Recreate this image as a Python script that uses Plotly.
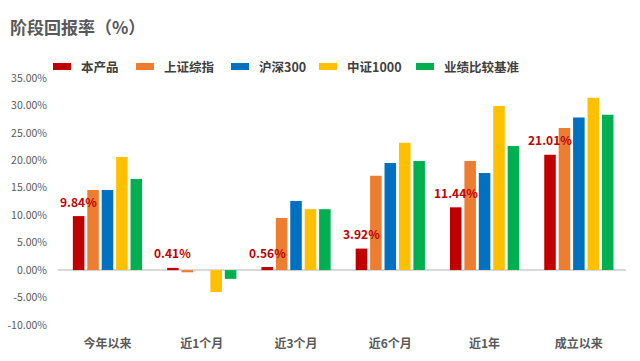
import plotly.graph_objects as go

categories = ["今年以来", "近1个月", "近3个月", "近6个月", "近1年", "成立以来"]
series_names = ["本产品", "上证综指", "沪深300", "中证1000", "业绩比较基准"]
product = [9.84, 0.41, 0.56, 3.92, 11.44, 21.01]
sse = [14.6, -0.4, 9.5, 17.2, 19.9, 25.9]
csi300 = [14.6, 0.0, 12.6, 19.5, 17.7, 27.8]
csi1000 = [20.6, -4.0, 11.1, 23.2, 29.9, 31.4]
benchmark = [16.6, -1.6, 11.1, 19.9, 22.6, 28.3]
y_ticks = [-10, -5, 0, 5, 10, 15, 20, 25, 30, 35]
y_tick_labels = [f"{v:.2f}%" for v in y_ticks]

colors = ["#c00000", "#ed7d31", "#0070c0", "#ffc000", "#00b050"]
values = [product, sse, csi300, csi1000, benchmark]

FONT = "Microsoft YaHei, Noto Sans CJK SC, sans-serif"
W, H = 640, 361
L, R, T, B = 58, 14, 78, 36
PW = W - L - R
PH = H - T - B

fig = go.Figure()
for name, vals, col in zip(series_names, values, colors):
    fig.add_trace(go.Bar(x=categories, y=vals, name=name, marker_color=col,
                         marker_line_width=0, showlegend=False))

# data labels for 本产品
cat_w = PW / len(categories)
bargap = 0.235
slot = cat_w * (1 - bargap) / len(series_names)
for c, v in zip(categories, product):
    fig.add_annotation(x=c, y=v, text=f"{v:.2f}%", showarrow=False,
                       xshift=-2 * slot, yshift=15,
                       font=dict(family=FONT, size=12, color="#c00000", weight="bold"))

# manual legend
legend_px = [53, 136, 231, 319, 416]
leg_y = 66.5
for name, col, px in zip(series_names, colors, legend_px):
    x0 = (px - L) / PW
    x1 = (px + 18 - L) / PW
    y0 = (H - B - (leg_y + 3.5)) / PH
    y1 = (H - B - (leg_y - 3.5)) / PH
    fig.add_shape(type="rect", xref="paper", yref="paper", x0=x0, x1=x1, y0=y0, y1=y1,
                  fillcolor=col, line_width=0)
    fig.add_annotation(xref="paper", yref="paper", x=(px + 26 - L) / PW,
                       y=(H - B - leg_y) / PH, text=name, showarrow=False,
                       xanchor="left", yanchor="middle",
                       font=dict(family=FONT, size=12.5, color="#404040", weight="bold"))

fig.update_layout(
    width=W, height=H,
    margin=dict(l=L, r=R, t=T, b=B, autoexpand=False),
    paper_bgcolor="white", plot_bgcolor="white",
    barmode="group", bargap=bargap, bargroupgap=0.2,
    hovermode=False,
    title=dict(text="阶段回报率（%）", x=10 / W, xanchor="left", y=1 - 28 / H, yanchor="middle",
               font=dict(family=FONT, size=17, color="#595959", weight="bold")),
    xaxis=dict(showgrid=False, showline=False, zeroline=False, ticks="",
               tickfont=dict(family=FONT, size=12, color="#595959", weight="bold"),
               ticklabelstandoff=10),
    yaxis=dict(range=[-10, 35], tickvals=y_ticks, ticktext=y_tick_labels,
               showgrid=False, showline=False, zeroline=True, zerolinecolor="#d9d9d9",
               zerolinewidth=1.5, ticklabelstandoff=10,
               tickfont=dict(family=FONT, size=10.5, color="#595959")),
)

fig.write_html("out.html", config={"displayModeBar": False},
               post_script="document.body.style.margin='0';")
